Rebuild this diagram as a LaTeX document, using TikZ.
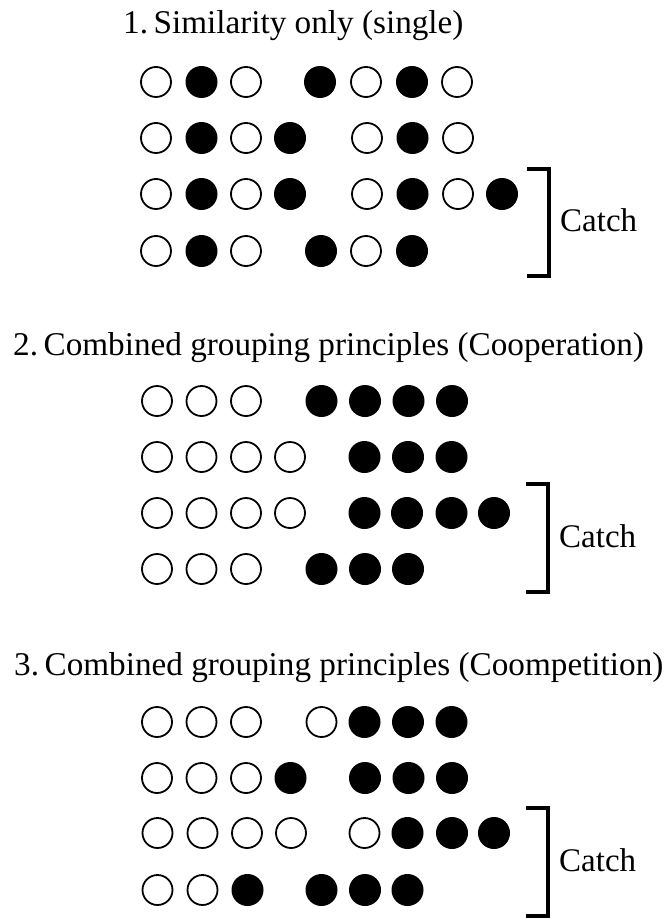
\documentclass[tikz,border=0pt]{standalone}
\usepackage{fontspec}
\setmainfont{Liberation Serif}
\tikzset{
  opn/.style={circle, draw=black, fill=white, line width=1.8pt, minimum size=30pt, inner sep=0pt},
  fld/.style={circle, fill=black, minimum size=32pt, inner sep=0pt},
  ttl/.style={anchor=base west, inner sep=0pt, font=\fontsize{33.2}{40}\selectfont},
  lbl/.style={anchor=base west, inner sep=0pt, font=\fontsize{33}{40}\selectfont},
  brk/.style={line width=4.5pt, line join=miter, line cap=butt}
}
\newcommand\dotrow[3]{%
  \foreach \xx/\tt [count=\ii] in {#3} { \node[\tt] (#1-\ii) at (\xx,#2) {}; }%
}
\begin{document}
\begin{tikzpicture}[x=1pt,y=-1pt]
\useasboundingbox (0,0) rectangle (668,918);
% ---------- Section 1 ----------
\node[ttl] (t1) at (123,33) {1.\,Similarity only (single)};
\dotrow{a1}{82}{156/opn,201.5/fld,246/opn,320/fld,366/opn,412/fld,457/opn}
\dotrow{a2}{138}{156/opn,201.5/fld,246/opn,290/fld,367/opn,412.5/fld,458/opn}
\dotrow{a3}{194}{156/opn,201.5/fld,246/opn,290/fld,367/opn,412.5/fld,458/opn,502/fld}
\dotrow{a4}{251}{156/opn,201.5/fld,246/opn,321/fld,366/opn,412/fld}
\coordinate (b1a) at (527,169);
\coordinate (b1b) at (549,169);
\coordinate (b1c) at (549,276);
\coordinate (b1d) at (527,276);
\draw[brk] (b1a) -- (b1b) -- (b1c) -- (b1d);
\node[lbl] (c1) at (560,231) {Catch};
% ---------- Section 2 ----------
\node[ttl] (t2) at (13,355) {2.\,Combined grouping principles (Cooperation)};
\dotrow{b1}{401}{157/opn,201.5/opn,246/opn,321.5/fld,365/fld,408.5/fld,452/fld}
\dotrow{b2}{457}{157/opn,201.5/opn,246/opn,290/opn,364.5/fld,408/fld,451.5/fld}
\dotrow{b3}{513}{157/opn,201.5/opn,246/opn,290/opn,364.5/fld,407/fld,451.5/fld,494/fld}
\dotrow{b4}{569}{157/opn,201.5/opn,246/opn,321.5/fld,365/fld,408/fld}
\coordinate (b2a) at (526,484);
\coordinate (b2b) at (548,484);
\coordinate (b2c) at (548,592);
\coordinate (b2d) at (526,592);
\draw[brk] (b2a) -- (b2b) -- (b2c) -- (b2d);
\node[lbl] (c2) at (559,547) {Catch};
% ---------- Section 3 ----------
\node[ttl] (t3) at (14,675) {3.\,Combined grouping principles (Coompetition)};
\dotrow{d1}{722}{157/opn,201.5/opn,246/opn,321.5/opn,364.5/fld,408/fld,451.5/fld}
\dotrow{d2}{778}{157/opn,201.5/opn,246/opn,290.5/fld,365/fld,408.5/fld,452/fld}
\dotrow{d3}{833}{157.5/opn,202.5/opn,247/opn,291/opn,364.5/opn,407.5/fld,452/fld,494/fld}
\dotrow{d4}{890}{157.5/opn,202.5/opn,247.5/fld,321.5/fld,365/fld,407.5/fld}
\coordinate (b3a) at (526,808);
\coordinate (b3b) at (548,808);
\coordinate (b3c) at (548,916);
\coordinate (b3d) at (526,916);
\draw[brk] (b3a) -- (b3b) -- (b3c) -- (b3d);
\node[lbl] (c3) at (559,871) {Catch};
\end{tikzpicture}
\end{document}
